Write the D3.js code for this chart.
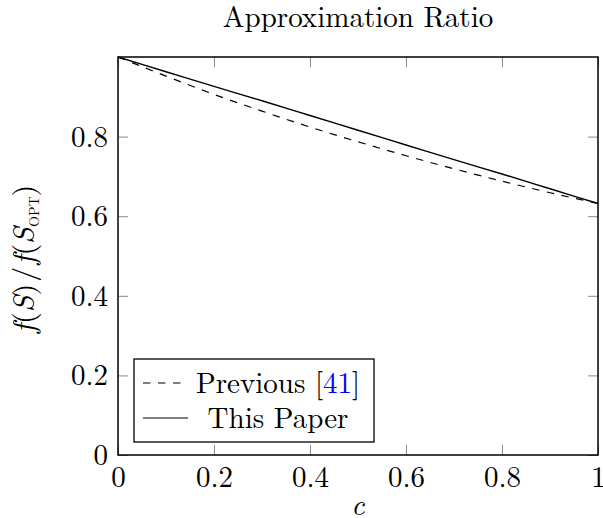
<!DOCTYPE html>
<html lang="en">
<head>
  <meta charset="utf-8">
  <title>Approximation Ratio</title>
<style>
body { margin: 0; background: #fff; }
svg text { font-family: "Latin Modern Roman", "CMU Serif", "Liberation Serif", serif; fill: #000; }
</style>
<script src="https://d3js.org/d3.v7.min.js"></script>
</head>
<body>
<div id="chart"></div>
<script>

// values
var cValues = [0, 0.1, 0.2, 0.3, 0.4, 0.5, 0.6, 0.7, 0.8, 0.9, 1];
var previous = [1, 0.952, 0.906, 0.864, 0.824, 0.787, 0.752, 0.719, 0.688, 0.659, 0.632];
var thisPaper = [1, 0.963, 0.926, 0.890, 0.853, 0.816, 0.779, 0.742, 0.706, 0.669, 0.632];
var xTicks = [0, 0.2, 0.4, 0.6, 0.8, 1];
var yTicks = [0, 0.2, 0.4, 0.6, 0.8];

var width = 603, height = 518,
    plotL = 118, plotR = 598, plotT = 57, plotB = 455,
    fs = 29;

var svg = d3.select("#chart").append("svg")
    .attr("width", width)
    .attr("height", height);

var x = d3.scaleLinear().domain([0, 1]).range([plotL, plotR]);
var y = d3.scaleLinear().domain([0, 1]).range([plotB, plotT]);

// ticks on all four sides, pointing inward
var tickLen = 10;
var tickCol = "#8a8a8a";

svg.append("g")
    .attr("transform", "translate(0," + plotB + ")")
    .call(d3.axisBottom(x).tickValues(xTicks).tickSize(-tickLen).tickPadding(11)
      .tickFormat(function(d) { return d === 0 || d === 1 ? d3.format("d")(d) : d3.format(".1f")(d); }))
    .call(function(g) {
      g.select(".domain").remove();
      g.selectAll("line").attr("stroke", tickCol);
      g.selectAll("text").attr("font-size", fs).attr("dy", "0.71em");
    });

svg.append("g")
    .attr("transform", "translate(0," + plotT + ")")
    .call(d3.axisTop(x).tickValues(xTicks).tickSize(-tickLen).tickFormat(""))
    .call(function(g) {
      g.select(".domain").remove();
      g.selectAll("line").attr("stroke", tickCol);
    });

svg.append("g")
    .attr("transform", "translate(" + plotL + ",0)")
    .call(d3.axisLeft(y).tickValues(yTicks).tickSize(-tickLen).tickPadding(10)
      .tickFormat(function(d) { return d === 0 ? "0" : d3.format(".1f")(d); }))
    .call(function(g) {
      g.select(".domain").remove();
      g.selectAll("line").attr("stroke", tickCol);
      g.selectAll("text").attr("font-size", fs).attr("dy", "0.33em");
    });

svg.append("g")
    .attr("transform", "translate(" + plotR + ",0)")
    .call(d3.axisRight(y).tickValues(yTicks).tickSize(-tickLen).tickFormat(""))
    .call(function(g) {
      g.select(".domain").remove();
      g.selectAll("line").attr("stroke", tickCol);
    });

// curves
var line = d3.line()
    .x(function(d, i) { return x(cValues[i]); })
    .y(function(d) { return y(d); })
    .curve(d3.curveMonotoneX);

svg.append("path")
    .datum(previous)
    .attr("d", line)
    .attr("fill", "none")
    .attr("stroke", "#000")
    .attr("stroke-width", 1.2)
    .attr("stroke-dasharray", "7.5,7.5");

svg.append("path")
    .datum(thisPaper)
    .attr("d", line)
    .attr("fill", "none")
    .attr("stroke", "#000")
    .attr("stroke-width", 1.4);

// frame
svg.append("rect")
    .attr("x", plotL).attr("y", plotT)
    .attr("width", plotR - plotL).attr("height", plotB - plotT)
    .attr("fill", "none")
    .attr("stroke", "#000")
    .attr("stroke-width", 1.5);

// title
svg.append("text")
    .attr("x", (plotL + plotR) / 2)
    .attr("y", 27)
    .attr("text-anchor", "middle")
    .attr("font-size", fs)
    .text("Approximation Ratio");

// x label
svg.append("text")
    .attr("x", (plotL + plotR) / 2)
    .attr("y", 515)
    .attr("text-anchor", "middle")
    .attr("font-size", fs)
    .attr("font-style", "italic")
    .text("c");

// y label
var yl = svg.append("text")
    .attr("transform", "translate(34,259) rotate(-90)")
    .attr("text-anchor", "middle")
    .attr("font-size", 30);
yl.append("tspan").attr("font-style", "italic").text("f");
yl.append("tspan").text("(");
yl.append("tspan").attr("font-style", "italic").text("S");
yl.append("tspan").text(")");
yl.append("tspan").attr("dx", 2).text("/");
yl.append("tspan").attr("dx", 2).attr("font-style", "italic").text("f");
yl.append("tspan").text("(");
yl.append("tspan").attr("font-style", "italic").text("S");
yl.append("tspan").attr("font-size", 14).attr("dy", 5).text("OPT");
yl.append("tspan").attr("dy", -5).text(")");

// legend
var legendData = [
  {name: "Previous ", cite: "41", dash: "7.5,7.5"},
  {name: "This Paper", cite: null, dash: null}
];

var lg = svg.append("g");
lg.append("rect")
    .attr("x", 134).attr("y", 359)
    .attr("width", 240).attr("height", 83)
    .attr("fill", "#fff")
    .attr("stroke", "#000")
    .attr("stroke-width", 1.3);

var rows = lg.selectAll(".row")
  .data(legendData)
  .enter().append("g")
    .attr("class", "row")
    .attr("transform", function(d, i) { return "translate(0," + (383 + i * 35) + ")"; });

rows.append("line")
    .attr("x1", 143).attr("x2", 188)
    .attr("y1", 0).attr("y2", 0)
    .attr("stroke", "#000")
    .attr("stroke-width", 1.2)
    .attr("stroke-dasharray", function(d) { return d.dash; });

rows.each(function(d) {
  var t = d3.select(this).append("text")
      .attr("x", 278)
      .attr("y", 0)
      .attr("dy", "0.33em")
      .attr("text-anchor", "middle")
      .attr("font-size", fs);
  t.append("tspan").text(d.name);
  if (d.cite) {
    t.append("tspan").text("[");
    t.append("tspan").attr("fill", "#0000ff").text(d.cite);
    t.append("tspan").text("]");
  }
});

</script>
</body>
</html>
